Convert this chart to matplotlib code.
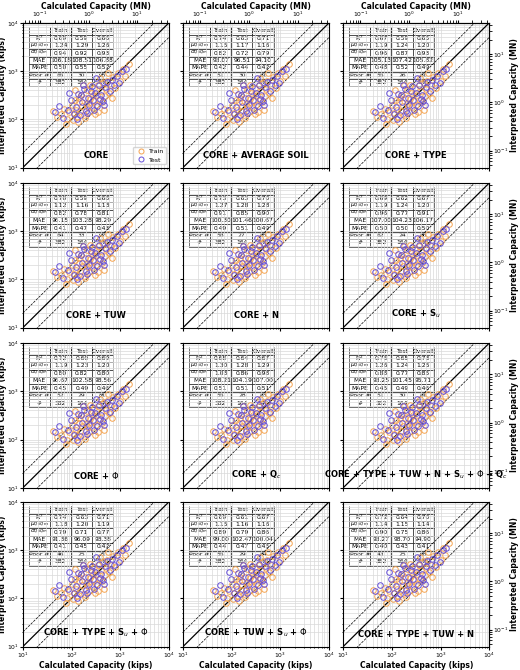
import numpy as np
import matplotlib
matplotlib.use('Agg')
from matplotlib import pyplot as plt

KIPS_TO_MN = 0.0044482

train_logx = [1.62, 1.70, 1.78, 1.85, 1.90, 1.95, 2.00, 2.02, 2.05, 2.08, 2.10, 2.12, 2.15, 2.18, 2.20,
              2.22, 2.25, 2.27, 2.30, 2.32, 2.35, 2.37, 2.40, 2.42, 2.45, 2.47, 2.50, 2.52, 2.55, 2.57,
              2.60, 2.62, 2.65, 2.68, 2.70, 2.73, 2.76, 2.80, 2.85, 2.90, 2.95, 3.00, 3.05, 3.10, 3.18,
              1.88, 2.06, 2.16, 2.28, 2.38, 2.48, 2.58, 2.66, 2.74, 2.82, 2.34, 2.44, 2.54, 2.24, 2.14]
train_logy = [2.18, 2.05, 2.10, 2.22, 2.00, 2.15, 2.30, 1.98, 2.12, 2.40, 2.20, 2.05, 2.35, 2.18, 2.50,
              2.28, 2.08, 2.45, 2.32, 2.60, 2.15, 2.42, 2.55, 2.25, 2.38, 2.65, 2.30, 2.50, 2.70, 2.40,
              2.58, 2.35, 2.75, 2.48, 2.62, 2.80, 2.55, 2.70, 2.88, 2.65, 2.95, 2.80, 3.05, 2.90, 3.15,
              1.90, 2.60, 2.45, 2.02, 2.72, 2.10, 2.85, 2.20, 2.95, 2.45, 2.25, 2.50, 2.15, 2.70, 1.95]
test_logx = [1.65, 1.75, 1.82, 1.92, 1.98, 2.04, 2.09, 2.13, 2.17, 2.21, 2.26, 2.29, 2.33, 2.36, 2.41,
             2.44, 2.49, 2.53, 2.56, 2.61, 2.64, 2.69, 2.72, 2.78, 2.83, 2.88, 2.93, 2.98, 3.04, 3.12,
             1.95, 2.11, 2.23, 2.31, 2.39, 2.51, 2.59, 2.67, 2.46, 2.19]
test_logy = [2.15, 2.28, 2.02, 2.20, 2.40, 2.10, 2.25, 2.52, 2.08, 2.35, 2.62, 2.18, 2.45, 2.30, 2.68,
             2.40, 2.55, 2.28, 2.72, 2.50, 2.38, 2.66, 2.78, 2.58, 2.82, 2.70, 2.90, 2.75, 3.00, 3.05,
             2.55, 2.00, 2.70, 2.12, 2.58, 2.85, 2.42, 2.30, 2.20, 2.50]

titles = ['CORE', 'CORE + AVERAGE SOIL', 'CORE + TYPE',
          'CORE + TUW', 'CORE + N', r'CORE + S$_u$',
          r'CORE + $\Phi$', r'CORE + Q$_c$', r'CORE + TYPE + TUW + N + S$_u$ + $\Phi$ + Q$_c$',
          r'CORE + TYPE + S$_u$ + $\Phi$', r'CORE + TUW + S$_u$ + $\Phi$', 'CORE + TYPE + TUW + N']

row_labels = ['R$^2$', r'$\mu_{Qi/Qm}$', r'$\sigma_{Qi/Qm}$', 'MAE', 'MAPE', 'Poor #', '#']
tables = [
    [['0.69', '0.59', '0.66'], ['1.24', '1.29', '1.26'], ['0.94', '0.92', '0.93'], ['106.18', '108.51', '106.88'], ['0.50', '0.55', '0.52'], ['65', '30', '95']],
    [['0.74', '0.63', '0.71'], ['1.15', '1.17', '1.16'], ['0.82', '0.72', '0.79'], ['93.07', '96.51', '94.10'], ['0.42', '0.44', '0.42'], ['51', '30', '81']],
    [['0.67', '0.59', '0.65'], ['1.19', '1.24', '1.20'], ['0.96', '0.87', '0.93'], ['105.13', '107.42', '105.82'], ['0.48', '0.52', '0.49'], ['55', '26', '81']],
    [['0.70', '0.59', '0.68'], ['1.12', '1.16', '1.13'], ['0.82', '0.78', '0.81'], ['96.15', '103.28', '98.29'], ['0.41', '0.47', '0.43'], ['64', '33', '97']],
    [['0.73', '0.63', '0.70'], ['1.27', '1.28', '1.28'], ['0.91', '0.85', '0.90'], ['100.30', '101.46', '100.67'], ['0.49', '0.51', '0.49'], ['58', '27', '85']],
    [['0.69', '0.62', '0.67'], ['1.19', '1.24', '1.20'], ['0.96', '0.77', '0.91'], ['107.00', '104.23', '106.17'], ['0.50', '0.50', '0.50'], ['62', '24', '86']],
    [['0.72', '0.60', '0.69'], ['1.19', '1.23', '1.20'], ['0.80', '0.82', '0.80'], ['96.67', '102.58', '98.56'], ['0.45', '0.49', '0.46'], ['52', '29', '81']],
    [['0.68', '0.64', '0.67'], ['1.30', '1.28', '1.29'], ['1.03', '0.86', '0.98'], ['108.21', '104.19', '107.00'], ['0.51', '0.51', '0.51'], ['55', '28', '83']],
    [['0.75', '0.65', '0.73'], ['1.26', '1.24', '1.25'], ['0.88', '0.77', '0.85'], ['93.25', '101.45', '95.71'], ['0.45', '0.49', '0.46'], ['51', '30', '81']],
    [['0.74', '0.63', '0.71'], ['1.18', '1.20', '1.19'], ['0.79', '0.71', '0.77'], ['91.36', '96.09', '93.38'], ['0.41', '0.45', '0.42'], ['46', '25', '71']],
    [['0.69', '0.61', '0.67'], ['1.15', '1.16', '1.16'], ['0.89', '0.79', '0.86'], ['99.00', '102.47', '100.04'], ['0.44', '0.47', '0.45'], ['55', '29', '84']],
    [['0.72', '0.64', '0.70'], ['1.14', '1.15', '1.14'], ['0.90', '0.75', '0.86'], ['93.27', '98.70', '94.90'], ['0.40', '0.43', '0.41'], ['43', '25', '68']],
]
counts = ['382', '164', '546']

c_train = '#f5a552'
c_test = '#6650d8'

fig = plt.figure(figsize=(5.2, 6.7), dpi=100)
lefts = [0.044, 0.352, 0.660]
bottoms = [0.750, 0.511, 0.272, 0.035]
w, h = 0.281, 0.216

tx = 10**np.array(train_logx); ty = 10**np.array(train_logy)
sx = 10**np.array(test_logx); sy = 10**np.array(test_logy)
line = np.array([10, 1e4])

for i in range(12):
    r, c = divmod(i, 3)
    ax = fig.add_axes([lefts[c], bottoms[r], w, h])
    ax.set_xscale('log'); ax.set_yscale('log')
    ax.set_xlim(10, 1e4); ax.set_ylim(10, 1e4)
    ax.grid(True, which='both', color='0.85', lw=0.5)
    ax.plot(line, line, 'k-', lw=0.9)
    ax.plot(line, 2*line, 'k--', lw=0.5)
    ax.plot(line, 0.5*line, 'k--', lw=0.5)
    ax.plot(tx, ty, 'o', mfc='none', mec=c_train, ms=4, mew=0.7, label='Train')
    ax.plot(sx, sy, 'o', mfc='none', mec=c_test, ms=4, mew=0.7, label='Test')
    ax.tick_params(labelsize=4.3, length=2, pad=1, which='both')
    ax.tick_params(which='minor', length=1)
    ax.text(0.5, 0.05, titles[i], transform=ax.transAxes, ha='center', va='bottom',
            fontsize=6, fontweight='bold')
    cells = [row_labels[j:j+1] + tables[i][j] for j in range(6)] + [['#'] + counts]
    tb = ax.table(cellText=cells, colLabels=['', 'Train', 'Test', 'Overall'],
                  bbox=[0.04, 0.56, 0.58, 0.41], cellLoc='center', edges='horizontal')
    tb.auto_set_font_size(False)
    tb.set_fontsize(4.3)
    for key, cell in tb.get_celld().items():
        cell.set_linewidth(0.4)
        cell.set_facecolor('white')
    for k in range(8):
        for cc in range(4):
            tb[k, cc].visible_edges = 'closed' if k > 0 else 'BRL'
    if c != 0:
        ax.set_yticklabels([])
    else:
        ax.set_ylabel('Interpreted Capacity (kips)', fontsize=5.5, fontweight='bold', labelpad=0)
    if r != 3:
        ax.set_xticklabels([])
    else:
        ax.set_xlabel('Calculated Capacity (kips)', fontsize=5.5, fontweight='bold', labelpad=1)
    if r == 0:
        sec = ax.secondary_xaxis('top', functions=(lambda x: x*KIPS_TO_MN, lambda x: x/KIPS_TO_MN))
        sec.tick_params(labelsize=4.3, length=2, pad=0.5)
        sec.set_xlabel('Calculated Capacity (MN)', fontsize=5.5, fontweight='bold', labelpad=0.5)
    if c == 2:
        sec = ax.secondary_yaxis('right', functions=(lambda x: x*KIPS_TO_MN, lambda x: x/KIPS_TO_MN))
        sec.tick_params(labelsize=4.3, length=2, pad=1)
        sec.set_ylabel('Interpreted Capacity (MN)', fontsize=5.5, fontweight='bold', labelpad=1)
    if i == 0:
        ax.legend(loc='lower right', fontsize=4.5, frameon=True, handletextpad=0.2,
                  borderpad=0.3, markerscale=0.9)

fig.savefig('out.png', dpi=100)
